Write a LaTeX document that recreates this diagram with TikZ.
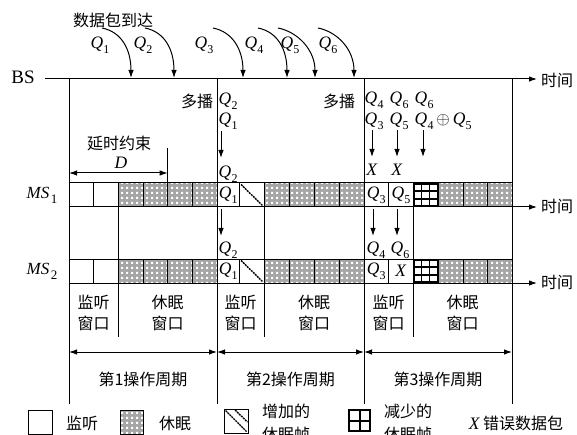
\documentclass[tikz,border=0pt]{standalone}
\usepackage{fontspec}
\setmainfont{Liberation Serif}
\newfontfamily\cjk{Noto Sans CJK SC}
\usetikzlibrary{arrows.meta,patterns}
\pgfdeclarepatternformonly{wdots}{\pgfpoint{0pt}{0pt}}{\pgfpoint{5pt}{5pt}}{\pgfpoint{5pt}{5pt}}{\pgfpathrectangle{\pgfpoint{1.4pt}{1.4pt}}{\pgfpoint{2.2pt}{2.2pt}}\pgfusepath{fill}}
\definecolor{sgray}{HTML}{A6A6A6}
\newcommand\qq[1]{\textit{Q}\kern0.2pt\raisebox{-0.3em}{\fontsize{12}{12}\selectfont #1}}
\newcommand\msl[1]{\textit{MS}\kern1.5pt\raisebox{-0.3em}{\fontsize{13}{13}\selectfont #1}}
\tikzset{
  ln/.style={line width=1pt},
  sleepc/.style={ln, preaction={fill=sgray}, pattern=wdots, pattern color=white},
  cellb/.style={ln, fill=white},
  diagl/.style={line width=1.4pt, dash pattern=on 2pt off 0.8pt},
  crossb/.style={line width=1.7pt},
  arr/.style={line width=1pt, -{Latex[length=8pt,width=5.5pt]}},
  darr/.style={line width=1pt, {Latex[length=8pt,width=5.5pt]}-{Latex[length=8pt,width=5.5pt]}},
  cn/.style={font=\cjk\fontsize{16}{21}\selectfont, inner sep=0pt},
  qn/.style={font=\fontsize{17.5}{19}\selectfont, inner sep=0pt},
  qw/.style={qn, anchor=west},
}
\begin{document}
\begin{tikzpicture}[x=1pt,y=-1pt]
\useasboundingbox (0,0) rectangle (577,435);
% BS axis
\node[font=\fontsize{19}{20}\selectfont, inner sep=0pt] (bs) at (23,77) {BS};
\coordinate (bsA) at (45,79);
\coordinate (bsB) at (537,79);
\draw[arr] (bsA) -- (bsB);
\node[cn] (t0) at (557,80) {时间};
% period lines
\foreach \x in {69,217,364,512}{
  \draw[ln] (\x,79) -- (\x,404);
}
% rows
\foreach \y/\n in {183/1,259/2}{
  \foreach \a/\b in {118.33/143,143/167.67,167.67/192.33,192.33/217,264/289,289/314,314/339,339/364,438/463,463/487.33,487.33/512}{
    \draw[sleepc] (\a,\y) rectangle (\b,\y+24);
  }
  \foreach \a/\b in {69/93.67,93.67/118.33,217/239.5,239.5/264,364/388.67,388.67/413.33}{
    \draw[cellb] (\a,\y) rectangle (\b,\y+24);
  }
  \draw[diagl] (241,\y+1.5) -- (262.5,\y+22.5);
  \draw[crossb] (414,\y+0.8) rectangle (437.5,\y+23.2);
  \draw[line width=1.5pt] (421.5,\y) -- (421.5,\y+24) (429.5,\y) -- (429.5,\y+24)
     (413.33,\y+8) -- (438,\y+8) (413.33,\y+16) -- (438,\y+16);
  \draw[ln] (69,\y) -- (512,\y);
  \coordinate (r\n A) at (69,\y+24);
  \coordinate (r\n B) at (537,\y+24);
  \draw[arr] (r\n A) -- (r\n B);
  \node[cn] (t\n) at (557,\y+23) {时间};
}
% between-row and below lines
\foreach \x in {118.33,264,413.33}{
  \draw[ln] (\x,207) -- (\x,259);
  \draw[ln] (\x,283) -- (\x,337);
}
% labels MS
\node[font=\fontsize{17}{18}\selectfont, inner sep=0pt] (ms1) at (42,195) {\msl{1}};
\node[font=\fontsize{17}{18}\selectfont, inner sep=0pt] (ms2) at (42,271) {\msl{2}};
% delay constraint
\draw[ln] (167.67,148) -- (167.67,183);
\coordinate (dA) at (69,173);
\coordinate (dB) at (167.67,173);
\draw[darr] (dA) -- (dB);
\node[cn] (delay) at (119,143) {延时约束};
\node[qn] (dl) at (121,163) {\textit{D}};
% packet arrivals
\node[cn] (arrive) at (113,20) {数据包到达};
\node[qn] (q1) at (100,45) {\qq{1}};
\node[qn] (q2) at (143,45) {\qq{2}};
\node[qn] (q3) at (204,45) {\qq{3}};
\node[qn] (q4) at (254,45) {\qq{4}};
\node[qn] (q5) at (290,45) {\qq{5}};
\node[qn] (q6) at (328,45) {\qq{6}};
\foreach \s/\e/\n in {102/131/1,145/174/2,213/243/3,258/287/4,278/315/5,318/354/6}{
  \coordinate (aS\n) at (\s,28);
  \coordinate (aE\n) at (\e,78);
  \draw[arr] (aS\n) .. controls (\s+20,32) and (\e,50) .. (aE\n);
}
% period 2 top
\node[cn] (mb1) at (197,101) {多播};
\node[cn] (mb2) at (339,101) {多播};
\node[qw] (p2a) at (218.5,101) {\qq{2}};
\node[qw] (p2b) at (218.5,121) {\qq{1}};
\coordinate (p2s) at (221,131);
\coordinate (p2e) at (221,158);
\draw[arr] (p2s) -- (p2e);
\node[qw] (p2c) at (218.5,174) {\qq{2}};
\node[qn] (c1) at (228.25,195) {\qq{1}};
% period 2 between rows
\coordinate (p2s2) at (221,209);
\coordinate (p2e2) at (221,236);
\draw[arr] (p2s2) -- (p2e2);
\node[qw] (p2d) at (218.5,250) {\qq{2}};
\node[qn] (c2) at (228.25,271) {\qq{1}};
% period 3 top
\node[qw] (p3a) at (364.5,100) {\qq{4}};
\node[qw] (p3b) at (389.5,100) {\qq{6}};
\node[qw] (p3c) at (414.5,100) {\qq{6}};
\node[qw] (p3d) at (364.5,121) {\qq{3}};
\node[qw] (p3e) at (389.5,121) {\qq{5}};
\node[qw] (p3f) at (414.5,121) {\qq{4}\,$\oplus$\,\qq{5}};
\foreach \x/\n in {372/1,397/2,423/3}{
  \coordinate (p3s\n) at (\x,130);
  \coordinate (p3e\n) at (\x,157);
  \draw[arr] (p3s\n) -- (p3e\n);
}
\node[qn] (x1) at (372,170) {\textit{X}};
\node[qn] (x2) at (397,170) {\textit{X}};
\node[qn] (c3) at (376.3,195) {\qq{3}};
\node[qn] (c4) at (401,195) {\qq{5}};
% period 3 between rows
\foreach \x/\n in {373/1,397/2}{
  \coordinate (p3t\n) at (\x,209);
  \coordinate (p3u\n) at (\x,236);
  \draw[arr] (p3t\n) -- (p3u\n);
}
\node[qn] (p3g) at (376,250) {\qq{4}};
\node[qn] (p3h) at (400,250) {\qq{6}};
\node[qn] (c5) at (376.3,271) {\qq{3}};
\node[qn] (c6) at (401,271) {\textit{X}};
% windows
\foreach \x in {93.67,240.5,388.67}{
  \node[cn, align=center] at (\x,313) {监听\\窗口};
}
\foreach \x in {167.67,314,462.67}{
  \node[cn, align=center] at (\x,313) {休眠\\窗口};
}
% operation periods
\foreach \a/\b/\n in {69/217/1,217/364/2,364/512/3}{
  \coordinate (pa\n) at (\a,352);
  \coordinate (pb\n) at (\b,352);
  \draw[darr] (pa\n) -- (pb\n);
  \node[cn] (pl\n) at ({(\a+\b)/2},379) {第\n 操作周期};
}
% legend
\draw[ln] (28,410) rectangle (52,434);
\node[cn] (lg1) at (82,423) {监听};
\draw[sleepc] (120,410) rectangle (143,434);
\node[cn] (lg2) at (175,423) {休眠};
\draw[ln] (224,409) rectangle (248,433);
\draw[diagl] (225.5,410.5) -- (246.5,431.5);
\draw[diagl] (235,410) -- (247.5,422);
\node[cn, align=center] (lg3) at (286,411) {增加的};
\node[cn] (lg3b) at (286,434) {休眠帧};
\draw[line width=2.2pt] (349,410) rectangle (370,431);
\draw[line width=2pt] (359.5,410) -- (359.5,431) (349,420.5) -- (370,420.5);
\node[cn] (lg4) at (408,411) {减少的};
\node[cn] (lg4b) at (408,434) {休眠帧};
\node[inner sep=0pt] (lg5) at (516,423) {\fontsize{17.5}{18}\selectfont\textit{X}\,\cjk\fontsize{16}{18}\selectfont 错误数据包};
\end{tikzpicture}
\end{document}
